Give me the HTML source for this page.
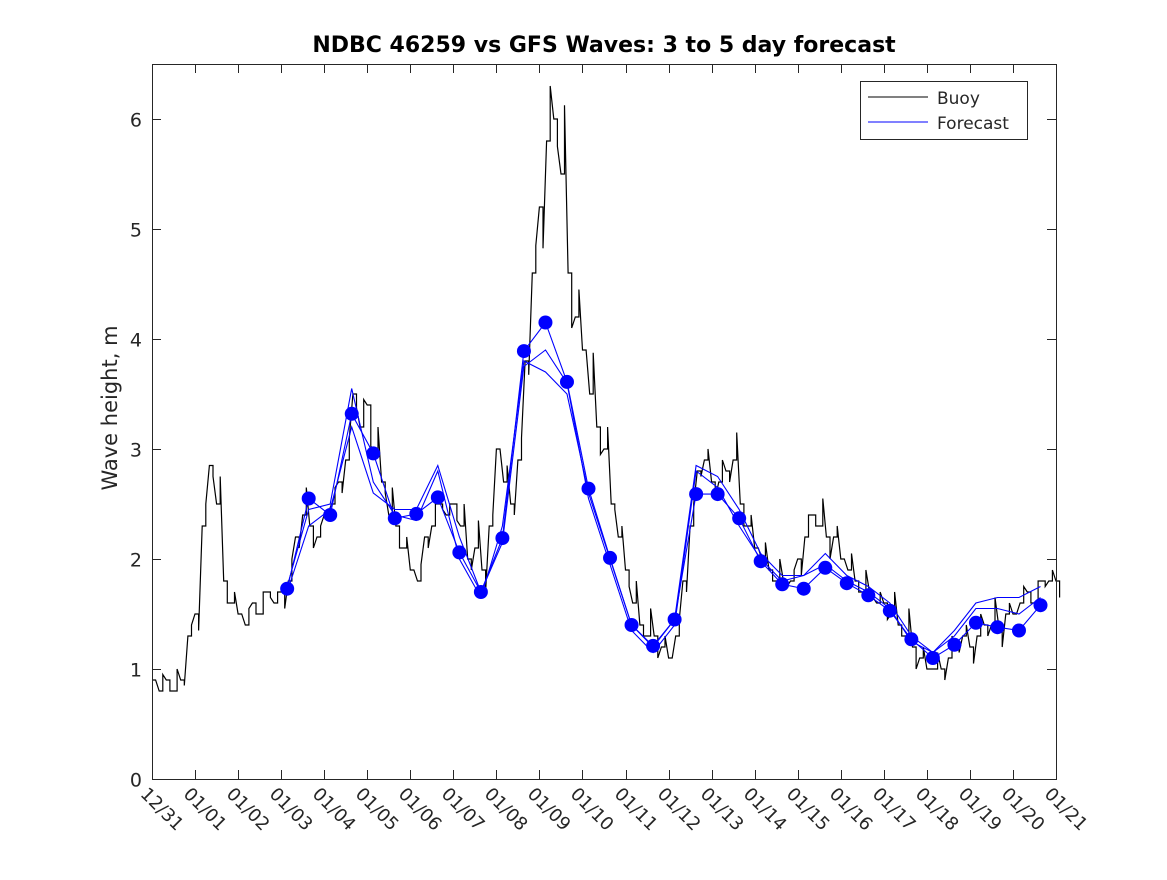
<!DOCTYPE html>
<html><head><meta charset="utf-8"><style>
body{margin:0;background:#fff}
svg text{font-family:"DejaVu Sans","Liberation Sans",sans-serif;fill:#262626}
</style></head><body>
<svg id="chart" width="1167" height="875">
<rect x="0" y="0" width="1167" height="875" fill="#fff"/>
<text x="604" y="52" text-anchor="middle" font-size="22" font-weight="bold" style="fill:#000">NDBC 46259 vs GFS Waves: 3 to 5 day forecast</text>
<text transform="translate(117,408) rotate(-90)" text-anchor="middle" font-size="21">Wave height, m</text>
<g id="plot"></g>
<g id="axes"></g>
<g>
<rect x="860.5" y="81.5" width="167" height="58" fill="#fff" stroke="#262626" stroke-width="1"/>
<line x1="868" y1="97" x2="928" y2="97" stroke="#000" stroke-width="1"/>
<text x="937" y="104" font-size="17">Buoy</text>
<line x1="868" y1="122" x2="928" y2="122" stroke="#0000ff" stroke-width="1"/>
<text x="937" y="129" font-size="17">Forecast</text>
</g>
</svg>
<script>
const xTickLabels=["12/31","01/01","01/02","01/03","01/04","01/05","01/06","01/07","01/08","01/09","01/10","01/11","01/12","01/13","01/14","01/15","01/16","01/17","01/18","01/19","01/20","01/21"];
const yTicks=[0,1,2,3,4,5,6];
// buoy values every 4 hours starting 12/31 00:00
const buoy=[0.9,0.8,0.9,0.8,0.9,1.3,
1.5,2.3,2.85,2.5,1.8,1.6,
1.5,1.4,1.6,1.5,1.7,1.6,
1.7,1.8,2.2,2.4,2.3,2.2,
2.4,2.5,2.7,2.9,3.5,3.2,
3.4,3.0,2.7,2.4,2.3,2.1,
1.9,1.8,2.2,2.3,2.5,2.4,
2.5,2.3,2.0,2.1,1.9,2.3,
3.0,2.7,2.5,2.9,3.8,4.6,
5.2,5.8,6.0,5.5,4.6,4.2,
3.9,3.5,3.2,3.0,2.5,2.2,
1.9,1.6,1.4,1.3,1.3,1.2,
1.1,1.3,1.8,2.3,2.8,2.9,
2.7,2.7,2.8,2.9,2.5,2.3,
2.1,2.0,1.9,1.8,1.8,1.8,
2.0,2.2,2.4,2.3,2.2,2.2,
2.0,1.9,1.8,1.7,1.7,1.6,
1.6,1.5,1.4,1.3,1.2,1.1,
1.0,1.0,1.0,1.1,1.2,1.3,
1.2,1.3,1.4,1.4,1.4,1.5,
1.5,1.6,1.7,1.6,1.8,1.8,1.8];
const buoyNoise=[0,0.15,-0.1,0.2,-0.05,0.1,-0.15,0.2,-0.1,0.25,-0.2,0.1];
const fcStartDay=3.14;
const fcStepDay=0.5;
const fcDots=[1.73,2.55,2.40,3.32,2.96,2.37,2.41,2.56,2.06,1.70,2.19,3.89,4.15,3.61,2.64,2.01,1.40,1.21,1.45,2.59,2.59,2.37,1.98,1.77,1.73,1.92,1.78,1.67,1.53,1.27,1.10,1.22,1.42,1.38,1.35,1.58];
const fcRun1=[1.75,2.45,2.5,3.55,2.7,2.4,2.35,2.8,2.0,1.65,2.3,3.8,3.7,3.5,2.6,2.0,1.4,1.2,1.45,2.85,2.75,2.45,2.05,1.85,1.85,2.05,1.85,1.75,1.6,1.3,1.15,1.35,1.6,1.65,1.65,1.75];
const fcRun2=[1.7,2.3,2.45,3.2,2.6,2.45,2.45,2.85,2.2,1.7,2.15,3.75,3.9,3.6,2.55,1.95,1.35,1.15,1.4,2.8,2.65,2.3,2.0,1.8,1.85,1.95,1.8,1.7,1.55,1.25,1.15,1.3,1.55,1.55,1.5,1.65];

const X0=152,X1=1056,Y0=779,Y1=64;
const xs=d=>X0+(X1-X0)*d/21;
const ys=v=>Y0-(Y0-119)*v/6;
const NS="http://www.w3.org/2000/svg";
const plot=document.getElementById('plot'),axes=document.getElementById('axes');
function mk(tag,attrs,parent){const e=document.createElementNS(NS,tag);for(const k in attrs)e.setAttribute(k,attrs[k]);parent.appendChild(e);return e;}

let d="";
buoy.forEach((v,i)=>{
  const t=i/6, t2=(i+0.5)/6;
  const n=buoyNoise[i%buoyNoise.length]*(v>3?2.5:1);
  d+=(i?"L":"M")+xs(t).toFixed(1)+","+ys(v).toFixed(1)+" L"+xs(t2).toFixed(1)+","+ys(v).toFixed(1)+" L"+xs(t2).toFixed(1)+","+ys(v+n).toFixed(1)+" ";
});
const bl=mk('path',{d:d,fill:"none",stroke:"#000","stroke-width":1.2},plot);



[fcRun1,fcRun2,fcDots].forEach((arr,k)=>{
  const p=arr.map((v,i)=>xs(fcStartDay+i*fcStepDay).toFixed(1)+","+ys(v).toFixed(1)).join(" ");
  const pl=mk('polyline',{points:p,fill:"none",stroke:"#0000ff","stroke-width":1.1},plot);
  
  
});
fcDots.forEach((v,i)=>{
  const c=mk('circle',{cx:xs(fcStartDay+i*fcStepDay),cy:ys(v),r:7,fill:"#0000ff"},plot);
  
  
});

const box=mk('rect',{x:X0+0.5,y:Y1+0.5,width:X1-X0,height:Y0-Y1,fill:"none",stroke:"#262626","stroke-width":1},axes);


yTicks.forEach(v=>{
  const y=Math.round(ys(v))+0.5;
  mk('line',{x1:X0,y1:y,x2:X0+9,y2:y,stroke:"#262626"},axes);
  mk('line',{x1:X1-9,y1:y,x2:X1,y2:y,stroke:"#262626"},axes);
  const t=mk('text',{x:X0-10,y:y+7,"text-anchor":"end","font-size":19},axes);
  t.textContent=v;
  
  
});
xTickLabels.forEach((lab,i)=>{
  const x=Math.round(xs(i))+0.5;
  mk('line',{x1:x,y1:Y0,x2:x,y2:Y0-9,stroke:"#262626"},axes);
  mk('line',{x1:x,y1:Y1,x2:x,y2:Y1+9,stroke:"#262626"},axes);
  const t=mk('text',{x:0,y:0,"font-size":18,transform:`translate(${x-13},${Y0+16}) rotate(45)`},axes);
  t.textContent=lab;
  
  
});
</script>
</body></html>
